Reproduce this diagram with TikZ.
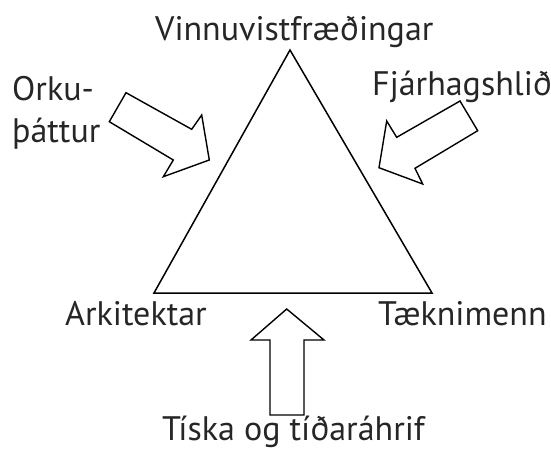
\documentclass[tikz,border=0pt]{standalone}
\usepackage{fontspec}
\setmainfont{PT Sans}
\begin{document}
\begin{tikzpicture}[x=1pt,y=-1pt,
  lbl/.style={anchor=base west,inner sep=0pt,font=\fontsize{34}{40}\selectfont,text=black!85},
  blockarrow/.style={draw=black,line width=1.4pt,line join=miter,fill=white},
  tri/.style={draw=black,line width=1.5pt,line join=miter}]
\useasboundingbox (0,0) rectangle (551,451);
% triangle
\coordinate (apex) at (290,50);
\coordinate (bl) at (154,293);
\coordinate (br) at (432,293);
\draw[tri] (apex) -- (bl) -- (br) -- cycle;
% labels
\node[lbl] (vinn) at (155,40) {Vinnuvistfræðingar};
\node[lbl] (orku) at (12,100) {Orku-};
\node[lbl] (patt) at (12,142) {þáttur};
\node[lbl] (fjar) at (372,95) {Fjárhagshlið};
\node[lbl] (ark) at (65,325) {Arkitektar};
\node[lbl] (taek) at (378,325) {Tæknimenn};
\node[lbl] (tisk) at (162,440) {Tíska og tíðaráhrif};
% left block arrow
\draw[blockarrow] (126,92.7) -- (191.7,129.3) -- (201.7,115) -- (209.3,160)
  -- (163.3,176.7) -- (173.3,160) -- (109.3,121.7) -- cycle;
% right block arrow
\draw[blockarrow] (460,101) -- (396.7,137.3) -- (386.7,121) -- (379,167.7)
  -- (422.7,184) -- (415,168.3) -- (477.7,130.7) -- cycle;
% bottom block arrow
\draw[blockarrow] (286.7,309) -- (324,340) -- (304,340) -- (304,415)
  -- (270,415) -- (270,340) -- (251,340) -- cycle;
\end{tikzpicture}
\end{document}
